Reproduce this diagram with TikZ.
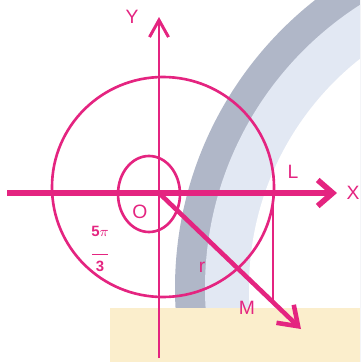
\documentclass[tikz,border=0pt]{standalone}
\usepackage{fontspec}
\setmainfont{Liberation Sans}
\usetikzlibrary{arrows.meta}
\definecolor{axispink}{RGB}{228,36,128}
\definecolor{bandgray}{RGB}{176,183,200}
\definecolor{bandblue}{RGB}{226,232,243}
\definecolor{notebox}{RGB}{251,238,204}

\begin{document}
\begin{tikzpicture}[x=0.02cm, y=-0.02cm,
    lbl/.style={text=axispink, font=\fontsize{11}{12}\selectfont},
    ring/.style={draw=axispink, line width=1.5pt},
    xaxis/.style={axispink, line width=3.2pt, -{Straight Barb[length=0.3cm, width=0.52cm]}},
    yaxis/.style={axispink, line width=1.7pt, -{Straight Barb[length=0.34cm, width=0.38cm]}},
    radius line/.style={axispink, line width=2.6pt, -{Straight Barb[length=0.36cm, width=0.5cm]}}]
    \useasboundingbox (0,0) rectangle (360,362);
    % watermark band and note box behind the figure
    \begin{scope}
      \clip (0,0) rectangle (360,362);
      \fill[bandgray] (541,288) circle[radius=366];
      \fill[bandblue] (541,288) circle[radius=336];
      \fill[white] (541,288) circle[radius=292];
    \end{scope}
    \fill[notebox] (110,308) rectangle (360,362);

    \coordinate (O) at (159,193);
    \coordinate (xs) at (7,193);
    \coordinate (xe) at (337,193);
    \coordinate (ys) at (159,358);
    \coordinate (ye) at (159,17);
    \coordinate (Lp) at (273,193);
    \coordinate (Mp) at (273,300);
    \coordinate (tip) at (301,329);

    \draw[ring] (163,187) ellipse[x radius=111, y radius=110];
    \draw[ring] (149,194) ellipse[x radius=31, y radius=38];
    \draw[ring] (Lp) -- (Mp);
    \draw[yaxis] (ys) -- (ye);
    \draw[xaxis] (xs) -- (xe);
    \draw[radius line] (O) -- (tip);

    \node[lbl] (ylab) at (132,17) {Y};
    \node[lbl] (xlab) at (353,193) {X};
    \node[lbl] (llab) at (293,172) {L};
    \node[lbl] (olab) at (140,212) {O};
    \node[lbl] (rlab) at (202,267) {r};
    \node[lbl] (mlab) at (247,308) {M};
    \node[text=axispink, font=\fontsize{8.5}{9}\selectfont\bfseries, align=center, inner sep=0pt]
      (angle) at (100,249) {5$\pi$\\[1pt]\rule{9pt}{0.3pt}\\[1pt]3};
  \end{tikzpicture}
\end{document}
